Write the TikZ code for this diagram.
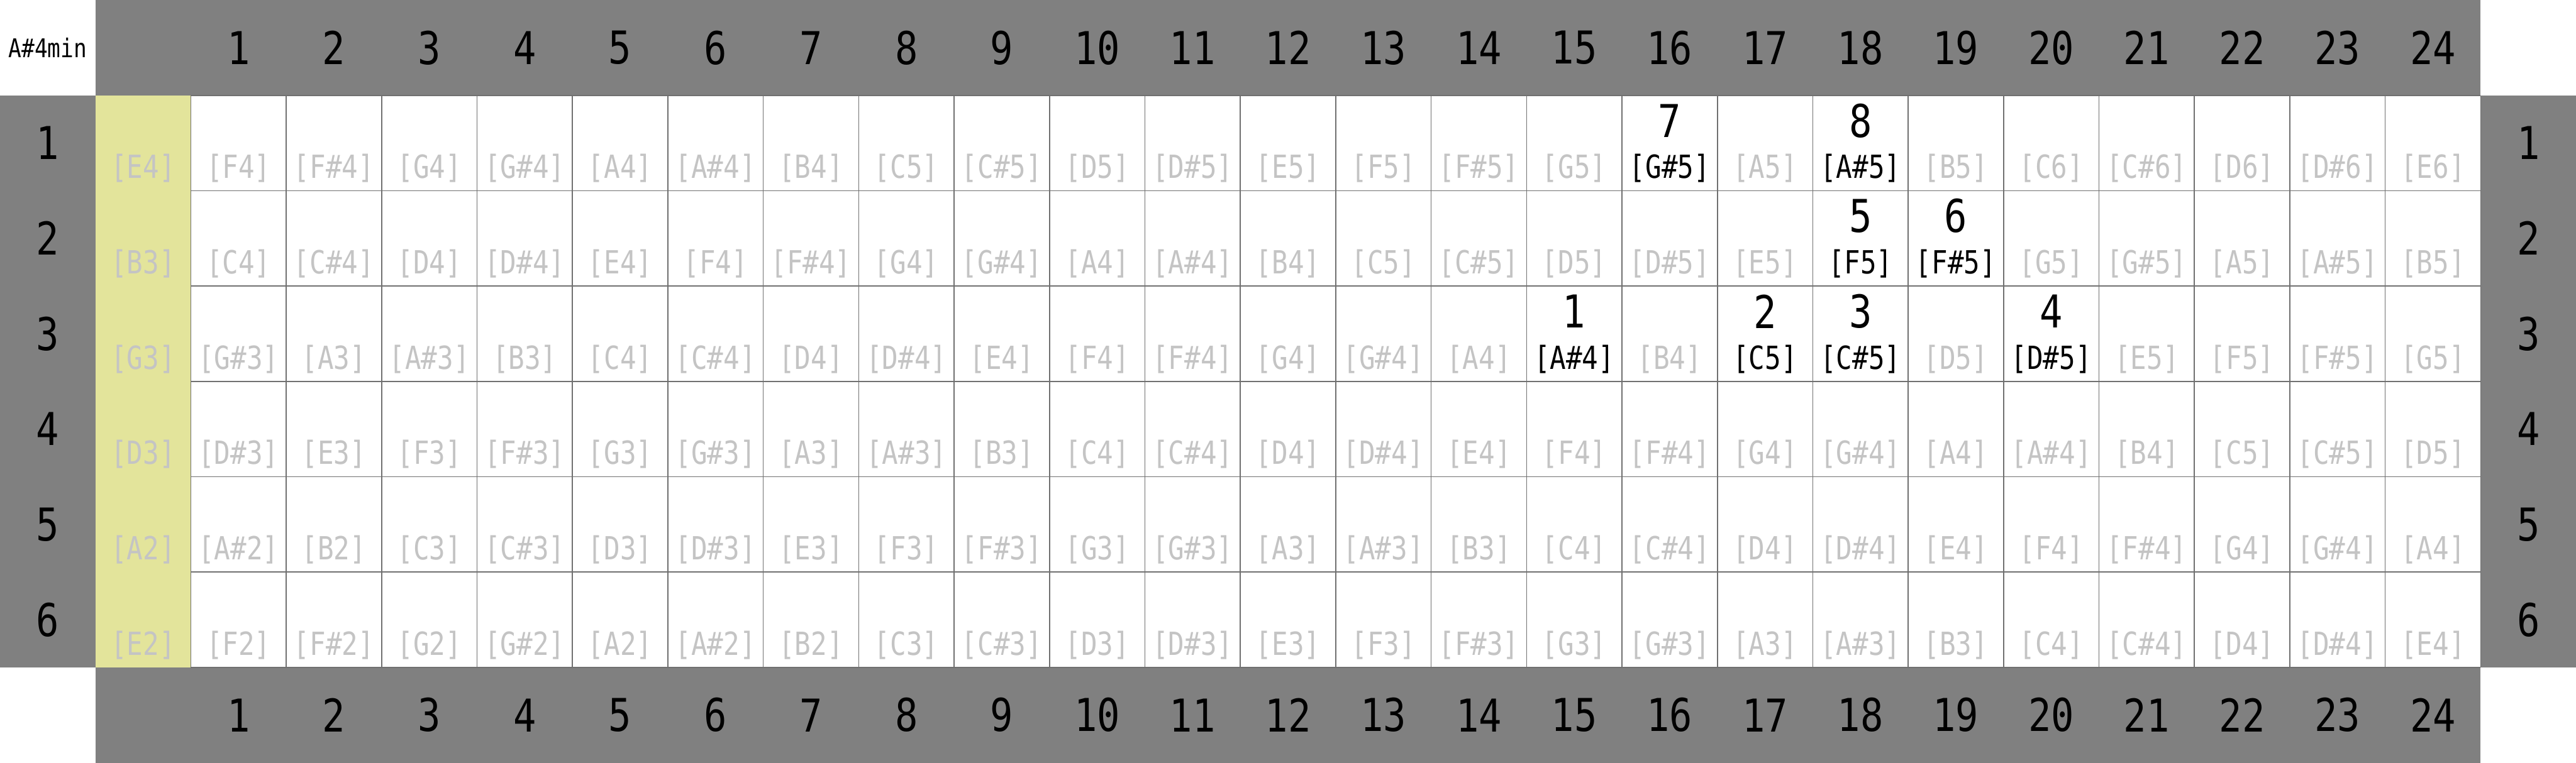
\documentclass[tikz,border=0pt]{standalone}
\usepackage{fontspec}
\setmonofont[FakeStretch=0.84]{DejaVu Sans Mono}
\definecolor{FretGray}{HTML}{808080}
\definecolor{NutYellow}{HTML}{E3E49B}
\definecolor{NoteGray}{HTML}{C4C4C4}
\definecolor{LineGray}{HTML}{707070}

% pitch class -> name
\newcommand{\pitchname}[1]{\ifcase#1 C\or C\#\or D\or D\#\or E\or F\or F\#\or G\or G\#\or A\or A\#\or B\fi}
% string/fret -> scale degree
\newcommand{\markdeg}[3]{\expandafter\def\csname deg#1-#2\endcsname{#3}}
\markdeg{3}{15}{1}
\markdeg{3}{17}{2}
\markdeg{3}{18}{3}
\markdeg{3}{20}{4}
\markdeg{2}{18}{5}
\markdeg{2}{19}{6}
\markdeg{1}{16}{7}
\markdeg{1}{18}{8}

\begin{document}
\begin{tikzpicture}[
  bignum/.style={font=\fontsize{13.5}{14}\selectfont\ttfamily, inner sep=0pt},
  note/.style={font=\fontsize{9.5}{10}\selectfont\ttfamily, inner sep=0pt, text=NoteGray},
  gridline/.style={LineGray, line width=0.3pt}]
  \useasboundingbox (0,0) rectangle (27,-8);
  \fill[white] (0,0) rectangle (27,-8);

  % frame bands and nut
  \fill[FretGray] (1,0) rectangle (26,-1);
  \fill[FretGray] (1,-7) rectangle (26,-8);
  \fill[FretGray] (0,-1) rectangle (1,-7);
  \fill[FretGray] (26,-1) rectangle (27,-7);
  \fill[NutYellow] (1,-1) rectangle (2,-7);
  \draw[gridline] (2,-1) grid (26,-7);

  \node[font=\fontsize{7.7}{8}\selectfont\ttfamily, inner sep=0pt] (chord) at (0.5,-0.5) {A\#4min};

  % fret numbers
  \foreach \f in {1,...,24} {
    \node[bignum] (fret-top-\f) at (\f+1.5,-0.5) {\f};
    \node[bignum] (fret-bot-\f) at (\f+1.5,-7.5) {\f};
  }
  % string numbers
  \foreach \s in {1,...,6} {
    \node[bignum] (str-l-\s) at (0.5,-\s-0.5) {\s};
    \node[bignum] (str-r-\s) at (26.5,-\s-0.5) {\s};
  }

  % notes on every string and fret
  \foreach \s/\open in {1/52, 2/47, 3/43, 4/38, 5/33, 6/28} {
    \foreach \f in {0,...,24} {
      \pgfmathtruncatemacro\n{\open+\f}
      \pgfmathtruncatemacro\pc{mod(\n,12)}
      \pgfmathtruncatemacro\oct{floor(\n/12)}
      \ifcsname deg\s-\f\endcsname
        \node[note, text=black] (note-\s-\f) at (\f+1.5,-\s-0.765) {[\pitchname{\pc}\oct]};
        \node[bignum] (deg-\s-\f) at (\f+1.5,-\s-0.265) {\csname deg\s-\f\endcsname};
      \else
        \node[note] (note-\s-\f) at (\f+1.5,-\s-0.765) {[\pitchname{\pc}\oct]};
      \fi
    }
  }
\end{tikzpicture}
\end{document}
